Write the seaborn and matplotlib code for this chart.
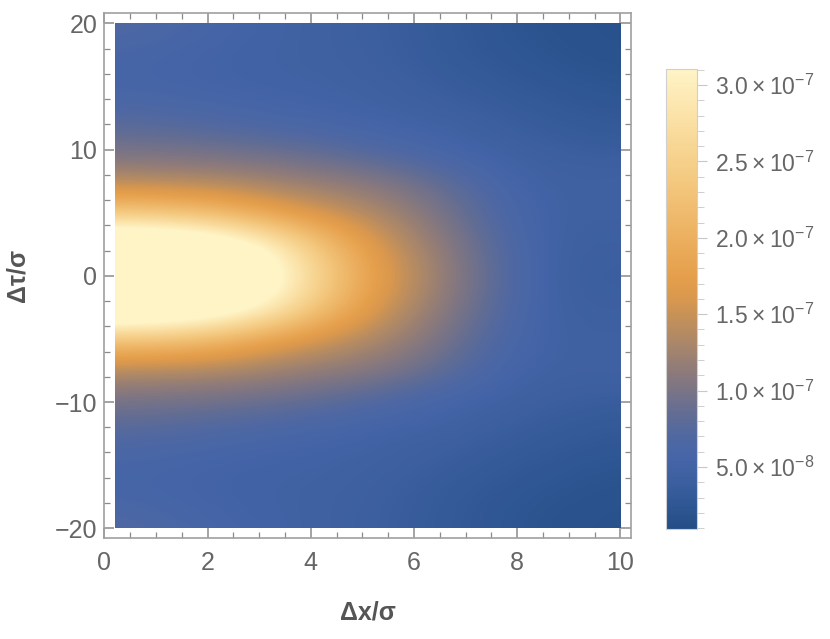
import numpy as np
import matplotlib
matplotlib.use("Agg")
import matplotlib.pyplot as plt
from matplotlib.patches import Rectangle
from matplotlib.ticker import MultipleLocator, FixedLocator
import seaborn as sns

# ---------------- data (intensity in units of 1e-8) ----------------
dx_sigma = [0.2, 1.18, 2.16, 3.14, 4.12, 5.1, 6.08, 7.06, 8.04, 9.02, 10.0]
dtau_sigma = [-20, -17.5, -15, -12.5, -10, -7.5, -5, -2.5, 0,
              2.5, 5, 7.5, 10, 12.5, 15, 17.5, 20]

tau_m200 = [7.2, 6.4, 5.6, 5.0, 4.6, 4.1, 3.5, 2.8, 2.2, 1.8, 1.6]
tau_m175 = [5.7, 5.4, 5.1, 4.8, 4.6, 4.2, 3.6, 2.9, 2.4, 2.0, 1.8]
tau_m150 = [5.6, 5.4, 5.1, 4.9, 4.8, 4.5, 4.0, 3.4, 2.9, 2.5, 2.2]
tau_m125 = [7.3, 7.0, 6.5, 5.9, 5.4, 5.0, 4.6, 4.2, 3.6, 3.1, 2.8]
tau_m100 = [9.6, 9.5, 9.2, 8.8, 8.1, 7.0, 6.0, 5.0, 4.3, 3.9, 3.6]
tau_m075 = [13.5, 13.3, 13.0, 12.3, 11.5, 10.8, 9.2, 7.2, 5.1, 4.5, 4.8]
tau_m050 = [23.0, 22.5, 21.0, 18.0, 15.5, 13.5, 11.2, 8.3, 5.7, 4.5, 4.6]
tau_m025 = [40.0, 39.0, 36.0, 31.0, 23.5, 17.0, 12.8, 9.4, 6.2, 4.2, 4.2]
tau_p000 = [45.0, 44.0, 41.0, 35.0, 26.0, 18.5, 13.8, 9.9, 6.4, 4.0, 3.8]
tau_p025 = [40.0, 39.0, 36.0, 31.0, 23.5, 17.0, 12.8, 9.4, 6.2, 4.2, 4.2]
tau_p050 = [23.0, 22.5, 21.0, 18.0, 15.5, 13.5, 11.2, 8.3, 5.7, 4.5, 4.6]
tau_p075 = [13.5, 13.3, 13.0, 12.3, 11.5, 10.8, 9.2, 7.2, 5.1, 4.5, 4.8]
tau_p100 = [9.6, 9.5, 9.2, 8.8, 8.1, 7.0, 6.0, 5.0, 4.3, 3.9, 3.6]
tau_p125 = [7.3, 7.0, 6.5, 5.9, 5.4, 5.0, 4.6, 4.2, 3.6, 3.1, 2.8]
tau_p150 = [5.6, 5.4, 5.1, 4.9, 4.8, 4.5, 4.0, 3.4, 2.9, 2.5, 2.2]
tau_p175 = [5.7, 5.4, 5.1, 4.8, 4.6, 4.2, 3.6, 2.9, 2.4, 2.0, 1.8]
tau_p200 = [7.2, 6.4, 5.6, 5.0, 4.6, 4.1, 3.5, 2.8, 2.2, 1.8, 1.6]

cbar_ticks = [5, 10, 15, 20, 25, 30]
cbar_labels = [r"$\mathregular{5.0\times10^{-8}}$", r"$\mathregular{1.0\times10^{-7}}$",
               r"$\mathregular{1.5\times10^{-7}}$", r"$\mathregular{2.0\times10^{-7}}$",
               r"$\mathregular{2.5\times10^{-7}}$", r"$\mathregular{3.0\times10^{-7}}$"]
x_ticks = [0, 2, 4, 6, 8, 10]
y_ticks = [-20, -10, 0, 10, 20]
value_min, value_max = 0.94, 31.05

# ---------------- style ----------------
sns.set_style("ticks")
plt.rcParams["font.family"] = ["Liberation Sans", "DejaVu Sans"]
plt.rcParams["mathtext.fontset"] = "custom"
plt.rcParams["mathtext.rm"] = "Liberation Sans"
plt.rcParams["axes.unicode_minus"] = True

gradient = ["#244e87", "#2f5793", "#3c5f9f", "#4565a8", "#5068a2", "#636d93",
            "#7a7486", "#917c78", "#a8866a", "#c08f5c", "#d9984e", "#e59f4c",
            "#e9a957", "#edb364", "#f0bd70", "#f3c77d", "#f6d08b", "#f8d999",
            "#fbe2a8", "#fdebb7", "#fff4c6"]
cmap = sns.blend_palette(gradient, as_cmap=True)

Z = np.array([tau_m200, tau_m175, tau_m150, tau_m125, tau_m100, tau_m075,
              tau_m050, tau_m025, tau_p000, tau_p025, tau_p050, tau_p075,
              tau_p100, tau_p125, tau_p150, tau_p175, tau_p200])

W, H = 830, 639
fig = plt.figure(figsize=(W / 100, H / 100), dpi=100)
ax = fig.add_axes([104.3 / W, 1 - 538.3 / H, (630.7 - 104.3) / W, (538.3 - 13.3) / H])
cax = fig.add_axes([665.7 / W, 1 - 529 / H, 31 / W, 460 / H])

hx = (dx_sigma[1] - dx_sigma[0]) / 2
hy = (dtau_sigma[1] - dtau_sigma[0]) / 2
im = ax.imshow(Z, origin="lower", cmap=cmap, vmin=value_min, vmax=value_max,
               extent=[dx_sigma[0] - hx, dx_sigma[-1] + hx,
                       dtau_sigma[0] - hy, dtau_sigma[-1] + hy],
               interpolation="bicubic", interpolation_stage="data", aspect="auto")
clip = Rectangle((dx_sigma[0], dtau_sigma[0]), dx_sigma[-1] - dx_sigma[0],
                 dtau_sigma[-1] - dtau_sigma[0], transform=ax.transData)
im.set_clip_path(clip)

ax.set_xlim(0.0, 10.2)
ax.set_ylim(-20.8, 20.8)

frame_col = "#a0a0a0"
text_col = "#666666"
for s in ax.spines.values():
    s.set_color(frame_col)
    s.set_linewidth(1.2)
    s.set_visible(True)

ax.xaxis.set_major_locator(FixedLocator(x_ticks))
ax.xaxis.set_minor_locator(MultipleLocator(0.5))
ax.yaxis.set_major_locator(FixedLocator(y_ticks))
ax.yaxis.set_minor_locator(MultipleLocator(2))
ax.tick_params(which="both", direction="in", top=True, right=True,
               color="#8a8a8a", labelcolor=text_col, labelsize=18)
ax.tick_params(which="major", length=7, width=1.1)
ax.tick_params(which="minor", length=4, width=0.9)
ax.tick_params(axis="x", pad=9)
ax.tick_params(axis="y", pad=5)

ax.set_xlabel("Δx/σ", fontsize=18, fontweight="bold", color="#555555")
ax.set_ylabel("Δτ/σ", fontsize=18, fontweight="bold", color="#555555")
ax.xaxis.label.set_va("center")
ax.yaxis.label.set_va("center")
ax.xaxis.set_label_coords(0.5, -(613 - 538.3) / 525)
ax.yaxis.set_label_coords((17.5 - 104.3) / 526.4, 0.5)

cb = fig.colorbar(im, cax=cax)
cb.outline.set_edgecolor("#cfcfcf")
cb.outline.set_linewidth(0.8)
cb.set_ticks(cbar_ticks)
cb.set_ticklabels(cbar_labels)
cax.yaxis.set_minor_locator(MultipleLocator(1))
cax.tick_params(which="both", direction="out", color="#c8c8c8", labelcolor=text_col,
                labelsize=16.5, right=True, left=False)
cax.tick_params(which="major", length=7, width=0.8, pad=6)
cax.tick_params(which="minor", length=5, width=0.6)

fig.savefig("out.png", dpi=100)
